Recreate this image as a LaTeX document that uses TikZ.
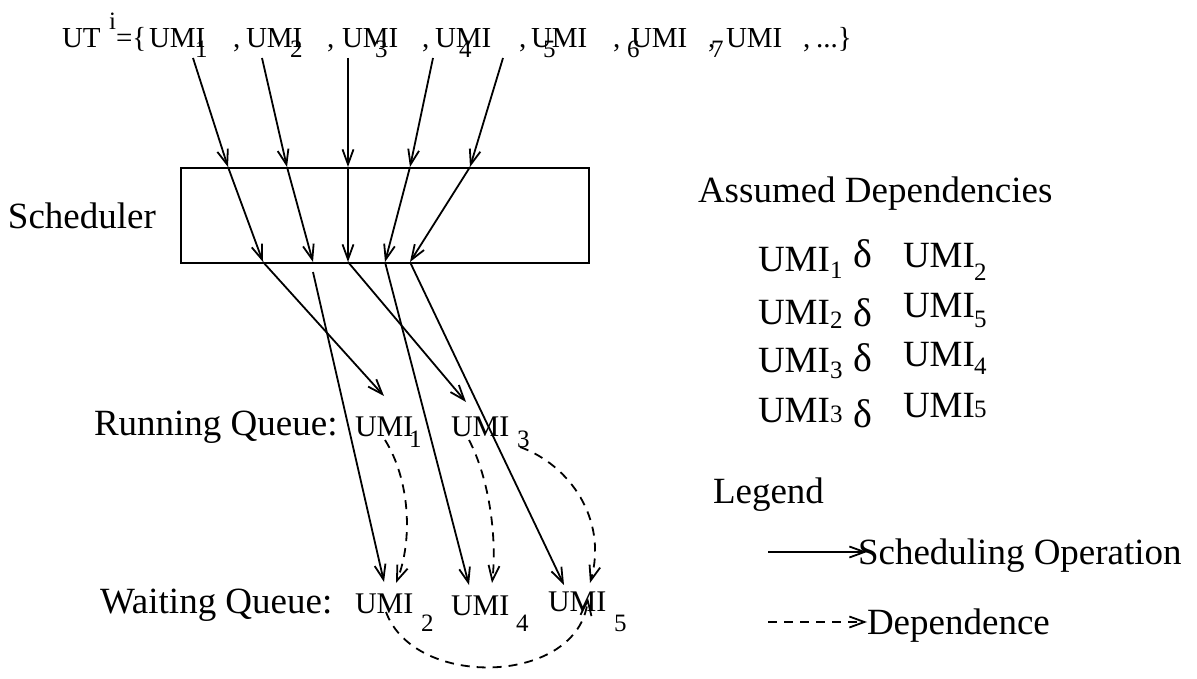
\documentclass[tikz,border=0pt]{standalone}
\usepackage{fontspec}
\setmainfont{Liberation Serif}
\usetikzlibrary{arrows.meta}
\begin{document}
\begin{tikzpicture}[x=1pt,y=-1pt,
  txt/.style={anchor=base west,inner sep=0pt,outer sep=0pt},
  bigtxt/.style={txt,font=\fontsize{37}{40}\selectfont},
  umitxt/.style={txt,font=\fontsize{29}{31}\selectfont},
  qumitxt/.style={txt,font=\fontsize{30}{32}\selectfont},
  subtxt/.style={txt,font=\fontsize{25}{27}\selectfont},
  depsub/.style={txt,font=\fontsize{25}{27}\selectfont},
  deltatxt/.style={txt,font=\fontsize{40}{42}\selectfont},
  schedarrow/.style={line width=1.8pt,-{Straight Barb[length=15pt,width=11pt]}},
  deparrow/.style={schedarrow,dash pattern=on 9pt off 7pt},
]
\useasboundingbox (0,0) rectangle (1197,679);

% ---- unit-of-tasks line ----
\node[umitxt] (ut) at (62,48) {UT};
\node[subtxt] (utsup) at (109,30) {i};
\node[umitxt] (ueq) at (116,48) {=\{};
\foreach \x/\n in {149/1,246/2,342/3,435/4,531/5,631/6,726/7}
  \node[umitxt] (tu\n) at (\x,48) {UMI};
\foreach \x/\n in {233/1,327/2,422/3,519/4,613/5,708/6,803/7}
  \node[umitxt] (tc\n) at (\x,48) {,};
\foreach \x/\n in {195/1,290/2,375/3,459/4,543/5,627/6,711/7}
  \node[subtxt] (td\n) at (\x,58) {\n};
\node[umitxt] (tend) at (816,48) {...\}};

% ---- scheduler ----
\node[bigtxt] (schedlabel) at (8,229) {Scheduler};
\node[draw,line width=2pt,anchor=north west,inner sep=0pt,
      minimum width=408pt,minimum height=95pt] (sched) at (180,167) {};

% entry points under the UMIs, and points on the scheduler edges
\foreach \x/\n in {193/1,262/2,348/3,433/4,503/5}
  \coordinate (s\n) at (\x,58);
\foreach \x/\n in {228/1,287/2,348/3,410/4,470/5}
  \coordinate (a\n) at (\x,167);
\foreach \x/\n in {263/1,313/2,348/3,385/4,410/5}
  \coordinate (b\n) at (\x,262);
\coordinate (b2low) at (313,272);

\foreach \n in {1,...,5} {
  \draw[schedarrow] (s\n) -- (a\n);
  \draw[schedarrow] (a\n) -- (b\n);
}

% ---- queues ----
\node[bigtxt] (runq) at (94,435) {Running Queue:};
\node[qumitxt] (r1) at (355,436) {UMI};
\node[subtxt] (r1s) at (409,447) {1};
\node[qumitxt] (r3) at (451,436) {UMI};
\node[subtxt] (r3s) at (517,447) {3};

\node[bigtxt] (waitq) at (100,613) {Waiting Queue:};
\node[qumitxt] (w2) at (355,613) {UMI};
\node[subtxt] (w2s) at (421,631) {2};
\node[qumitxt] (w4) at (451,615) {UMI};
\node[subtxt] (w4s) at (516,631) {4};
\node[qumitxt] (w5) at (548,611) {UMI};
\node[subtxt] (w5s) at (614,631) {5};

\coordinate (r1in) at (384,396);
\coordinate (r3in) at (466,402);
\coordinate (w2in) at (384,582);
\coordinate (w4in) at (469,585);
\coordinate (w5in) at (564,585);

\draw[schedarrow] (b1) -- (r1in);
\draw[schedarrow] (b2low) -- (w2in);
\draw[schedarrow] (b3) -- (r3in);
\draw[schedarrow] (b4) -- (w4in);
\draw[schedarrow] (b5) -- (w5in);

% ---- dependences ----
\coordinate (r1out) at (385,440);
\coordinate (r3out) at (469,440);
\coordinate (r3outb) at (520,447);
\coordinate (w2dep) at (396,583);
\coordinate (w4dep) at (492,583);
\coordinate (w5dep) at (590,583);
\coordinate (w2out) at (386,612);
\coordinate (w5up) at (588,598);

\draw[deparrow] (r1out) .. controls (410,480) and (413,540) .. (w2dep);
\draw[deparrow] (r3out) .. controls (490,480) and (497,540) .. (w4dep);
\draw[deparrow] (r3outb) .. controls (570,465) and (608,520) .. (w5dep);
\draw[deparrow] (w2out) .. controls (415,690) and (578,685) .. (w5up);

% ---- assumed dependencies ----
\node[bigtxt] (assumed) at (698,203) {Assumed Dependencies};

\node[bigtxt] (da1) at (758,271) {UMI};
\node[depsub] (da1s) at (830,278) {1};
\node[deltatxt] (dd1) at (853,268) {δ};
\node[bigtxt] (db1) at (903,267) {UMI};
\node[depsub] (db1s) at (974,280) {2};

\node[bigtxt] (da2) at (758,324) {UMI};
\node[depsub] (da2s) at (830,328) {2};
\node[deltatxt] (dd2) at (853,326) {δ};
\node[bigtxt] (db2) at (903,317) {UMI};
\node[depsub] (db2s) at (974,327) {5};

\node[bigtxt] (da3) at (758,372) {UMI};
\node[depsub] (da3s) at (830,378) {3};
\node[deltatxt] (dd3) at (853,371) {δ};
\node[bigtxt] (db3) at (903,366) {UMI};
\node[depsub] (db3s) at (974,374) {4};

\node[bigtxt] (da4) at (758,422) {UMI};
\node[depsub] (da4s) at (830,422) {3};
\node[deltatxt] (dd4) at (853,427) {δ};
\node[bigtxt] (db4) at (903,417) {UMI};
\node[depsub] (db4s) at (974,417) {5};

% ---- legend ----
\node[bigtxt] (legend) at (713,503) {Legend};
\coordinate (ls0) at (768,552);
\coordinate (ls1) at (867,552);
\coordinate (ld0) at (768,622);
\coordinate (ld1) at (867,622);
\draw[schedarrow] (ls0) -- (ls1);
\node[bigtxt] (lsched) at (858,564) {Scheduling Operation};
\draw[deparrow] (ld0) -- (ld1);
\node[bigtxt] (ldep) at (867,634) {Dependence};
\end{tikzpicture}
\end{document}
